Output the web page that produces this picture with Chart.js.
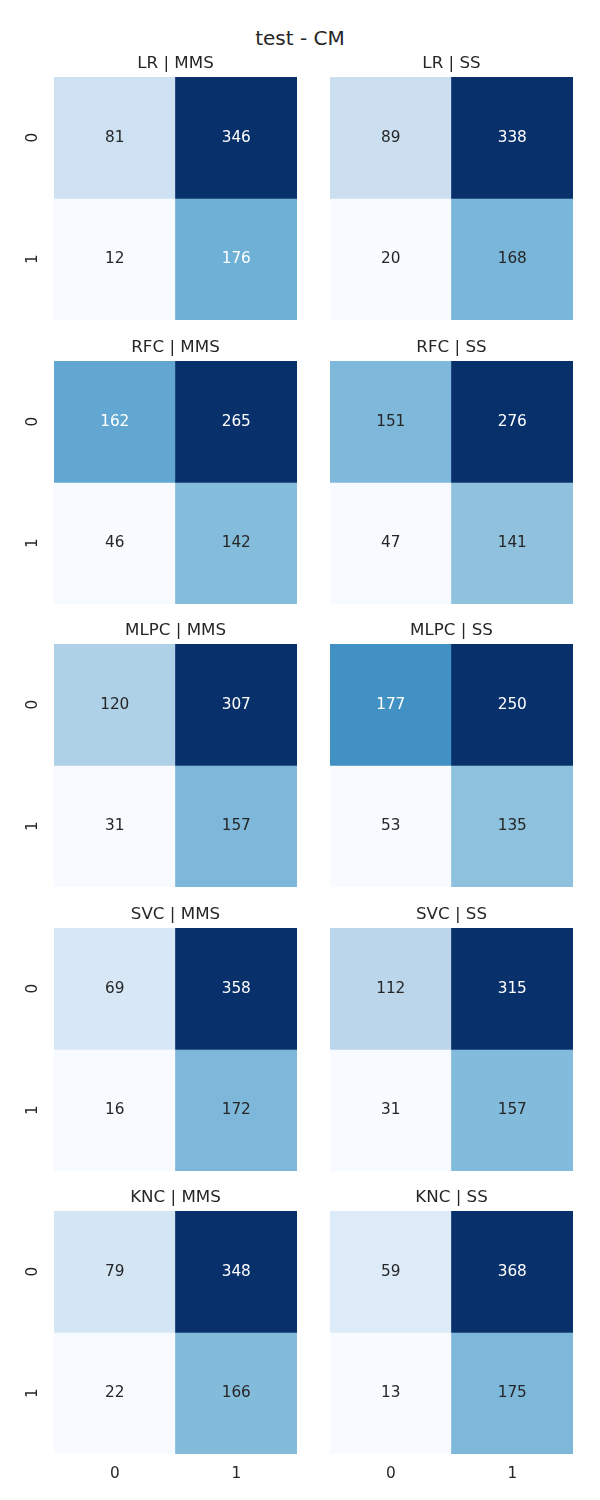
<!DOCTYPE html>
<html><head><meta charset="utf-8">
<script src="https://cdn.jsdelivr.net/npm/chart.js@4.4.1/dist/chart.umd.min.js"></script>
<style>
html,body{margin:0;padding:0;background:#fff;width:600px;height:1500px;overflow:hidden;position:relative}
#sup{position:absolute;left:0;width:600px;top:26px;text-align:center;font-family:"DejaVu Sans";font-size:20px;color:#262626;line-height:24px}
.cell{position:absolute}
</style></head><body>
<div id="sup">test - CM</div>
<script>
// ---- data ----
const models = ['LR', 'RFC', 'MLPC', 'SVC', 'KNC'];
const scalers = ['MMS', 'SS'];
const classLabels = ['0', '1'];
const cmLR_MMS   = [[81, 346], [12, 176]];
const cmLR_SS    = [[89, 338], [20, 168]];
const cmRFC_MMS  = [[162, 265], [46, 142]];
const cmRFC_SS   = [[151, 276], [47, 141]];
const cmMLPC_MMS = [[120, 307], [31, 157]];
const cmMLPC_SS  = [[177, 250], [53, 135]];
const cmSVC_MMS  = [[69, 358], [16, 172]];
const cmSVC_SS   = [[112, 315], [31, 157]];
const cmKNC_MMS  = [[79, 348], [22, 166]];
const cmKNC_SS   = [[59, 368], [13, 175]];
const matrices = {
  LR: [cmLR_MMS, cmLR_SS], RFC: [cmRFC_MMS, cmRFC_SS], MLPC: [cmMLPC_MMS, cmMLPC_SS],
  SVC: [cmSVC_MMS, cmSVC_SS], KNC: [cmKNC_MMS, cmKNC_SS]
};

// ---- layout / style ----
const FONT = 'DejaVu Sans';
const TXT = '#262626';
const rowTops = [77, 360.5, 644, 927.5, 1211];
const colLefts = [0, 276];
const plotSize = 243;
const titleH = 24;
const xAxisH = 40;

const BLUES = [
  [0.968627, 0.984314, 1.0], [0.870588, 0.921569, 0.968627], [0.776471, 0.858824, 0.937255],
  [0.619608, 0.792157, 0.882353], [0.419608, 0.682353, 0.839216], [0.258824, 0.572549, 0.776471],
  [0.129412, 0.443137, 0.709804], [0.031373, 0.317647, 0.611765], [0.031373, 0.188235, 0.419608]
];
function blues(t) {
  t = Math.max(0, Math.min(1, t));
  const p = t * (BLUES.length - 1);
  const i = Math.min(Math.floor(p), BLUES.length - 2);
  const f = p - i;
  return BLUES[i].map((c, k) => c + (BLUES[i + 1][k] - c) * f);
}
function toCss(rgb) { return 'rgb(' + rgb.map(c => Math.round(c * 255)).join(',') + ')'; }
function lum(rgb) {
  const lin = rgb.map(c => c <= 0.03928 ? c / 12.92 : Math.pow((c + 0.055) / 1.055, 2.4));
  return 0.2126 * lin[0] + 0.7152 * lin[1] + 0.0722 * lin[2];
}

const annotPlugin = {
  id: 'annot',
  afterDatasetsDraw(chart) {
    const ctx = chart.ctx;
    ctx.save();
    ctx.font = '15.3px "' + FONT + '"';
    ctx.textAlign = 'center';
    ctx.textBaseline = 'middle';
    chart.data.datasets.forEach((ds, i) => {
      const meta = chart.getDatasetMeta(i);
      meta.data.forEach((bar, j) => {
        const p = bar.getProps(['x', 'y', 'base'], true);
        ctx.fillStyle = lum(ds.rgb[j]) > 0.408 ? TXT : '#ffffff';
        ctx.fillText(String(ds.values[j]), p.x, (p.y + p.base) / 2);
      });
    });
    ctx.restore();
  }
};
const yTickPlugin = {
  id: 'ytick',
  afterDraw(chart, args, opts) {
    if (!opts.show) return;
    const s = chart.scales.y;
    const ctx = chart.ctx;
    ctx.save();
    ctx.font = '15.3px "' + FONT + '"';
    ctx.fillStyle = TXT;
    ctx.textAlign = 'center';
    ctx.textBaseline = 'middle';
    s.ticks.forEach((t, i) => {
      ctx.save();
      ctx.translate(s.right - 21, s.getPixelForValue(t.value));
      ctx.rotate(-Math.PI / 2);
      ctx.fillText(classLabels[i], 0, 0);
      ctx.restore();
    });
    ctx.restore();
  }
};

models.forEach((m, r) => {
  scalers.forEach((sc, c) => {
    const cm = matrices[m][c];
    const flat = cm.flat();
    const mn = Math.min(...flat), mx = Math.max(...flat);
    const isBottom = r === models.length - 1;
    const div = document.createElement('div');
    div.className = 'cell';
    div.style.left = colLefts[c] + 'px';
    div.style.top = (rowTops[r] - titleH) + 'px';
    div.style.width = '297px';
    div.style.height = (titleH + plotSize + (isBottom ? xAxisH : 0)) + 'px';
    const cv = document.createElement('canvas');
    div.appendChild(cv);
    document.body.appendChild(div);
    const xScale = {
      type: 'category', display: isBottom,
      grid: { display: false, drawTicks: false }, border: { display: false },
      ticks: { font: { family: FONT, size: 15.3 }, color: TXT, padding: 11 }
    };
    if (isBottom) xScale.afterFit = s => { s.height = xAxisH; };
    new Chart(cv, {
      type: 'bar',
      data: {
        labels: classLabels,
        datasets: cm.map((row, ri) => {
          const rgb = row.map(v => blues((v - mn) / (mx - mn)));
          return {
            data: row.map(() => [ri, ri + 1]),
            values: row,
            rgb: rgb,
            backgroundColor: rgb.map(toCss),
            grouped: false, barPercentage: 1, categoryPercentage: 1,
            borderWidth: 0, borderSkipped: false
          };
        })
      },
      options: {
        animation: false, responsive: true, maintainAspectRatio: false,
        layout: { padding: 0 },
        plugins: {
          legend: { display: false }, tooltip: { enabled: false },
          ytick: { show: c === 0 },
          title: {
            display: true, text: m + ' | ' + sc, color: TXT, fullSize: false,
            font: { family: FONT, size: 16.7, weight: 'normal', lineHeight: '20px' },
            padding: { top: 1, bottom: 3 }
          }
        },
        scales: {
          x: xScale,
          y: {
            type: 'linear', min: 0, max: 2, reverse: true,
            grid: { display: false, drawTicks: false }, border: { display: false },
            ticks: { display: false },
            afterBuildTicks: s => { s.ticks = [{ value: 0.5 }, { value: 1.5 }]; },
            afterFit: s => { s.width = 54; }
          }
        }
      },
      plugins: [annotPlugin, yTickPlugin]
    });
  });
});
</script>
</body></html>
